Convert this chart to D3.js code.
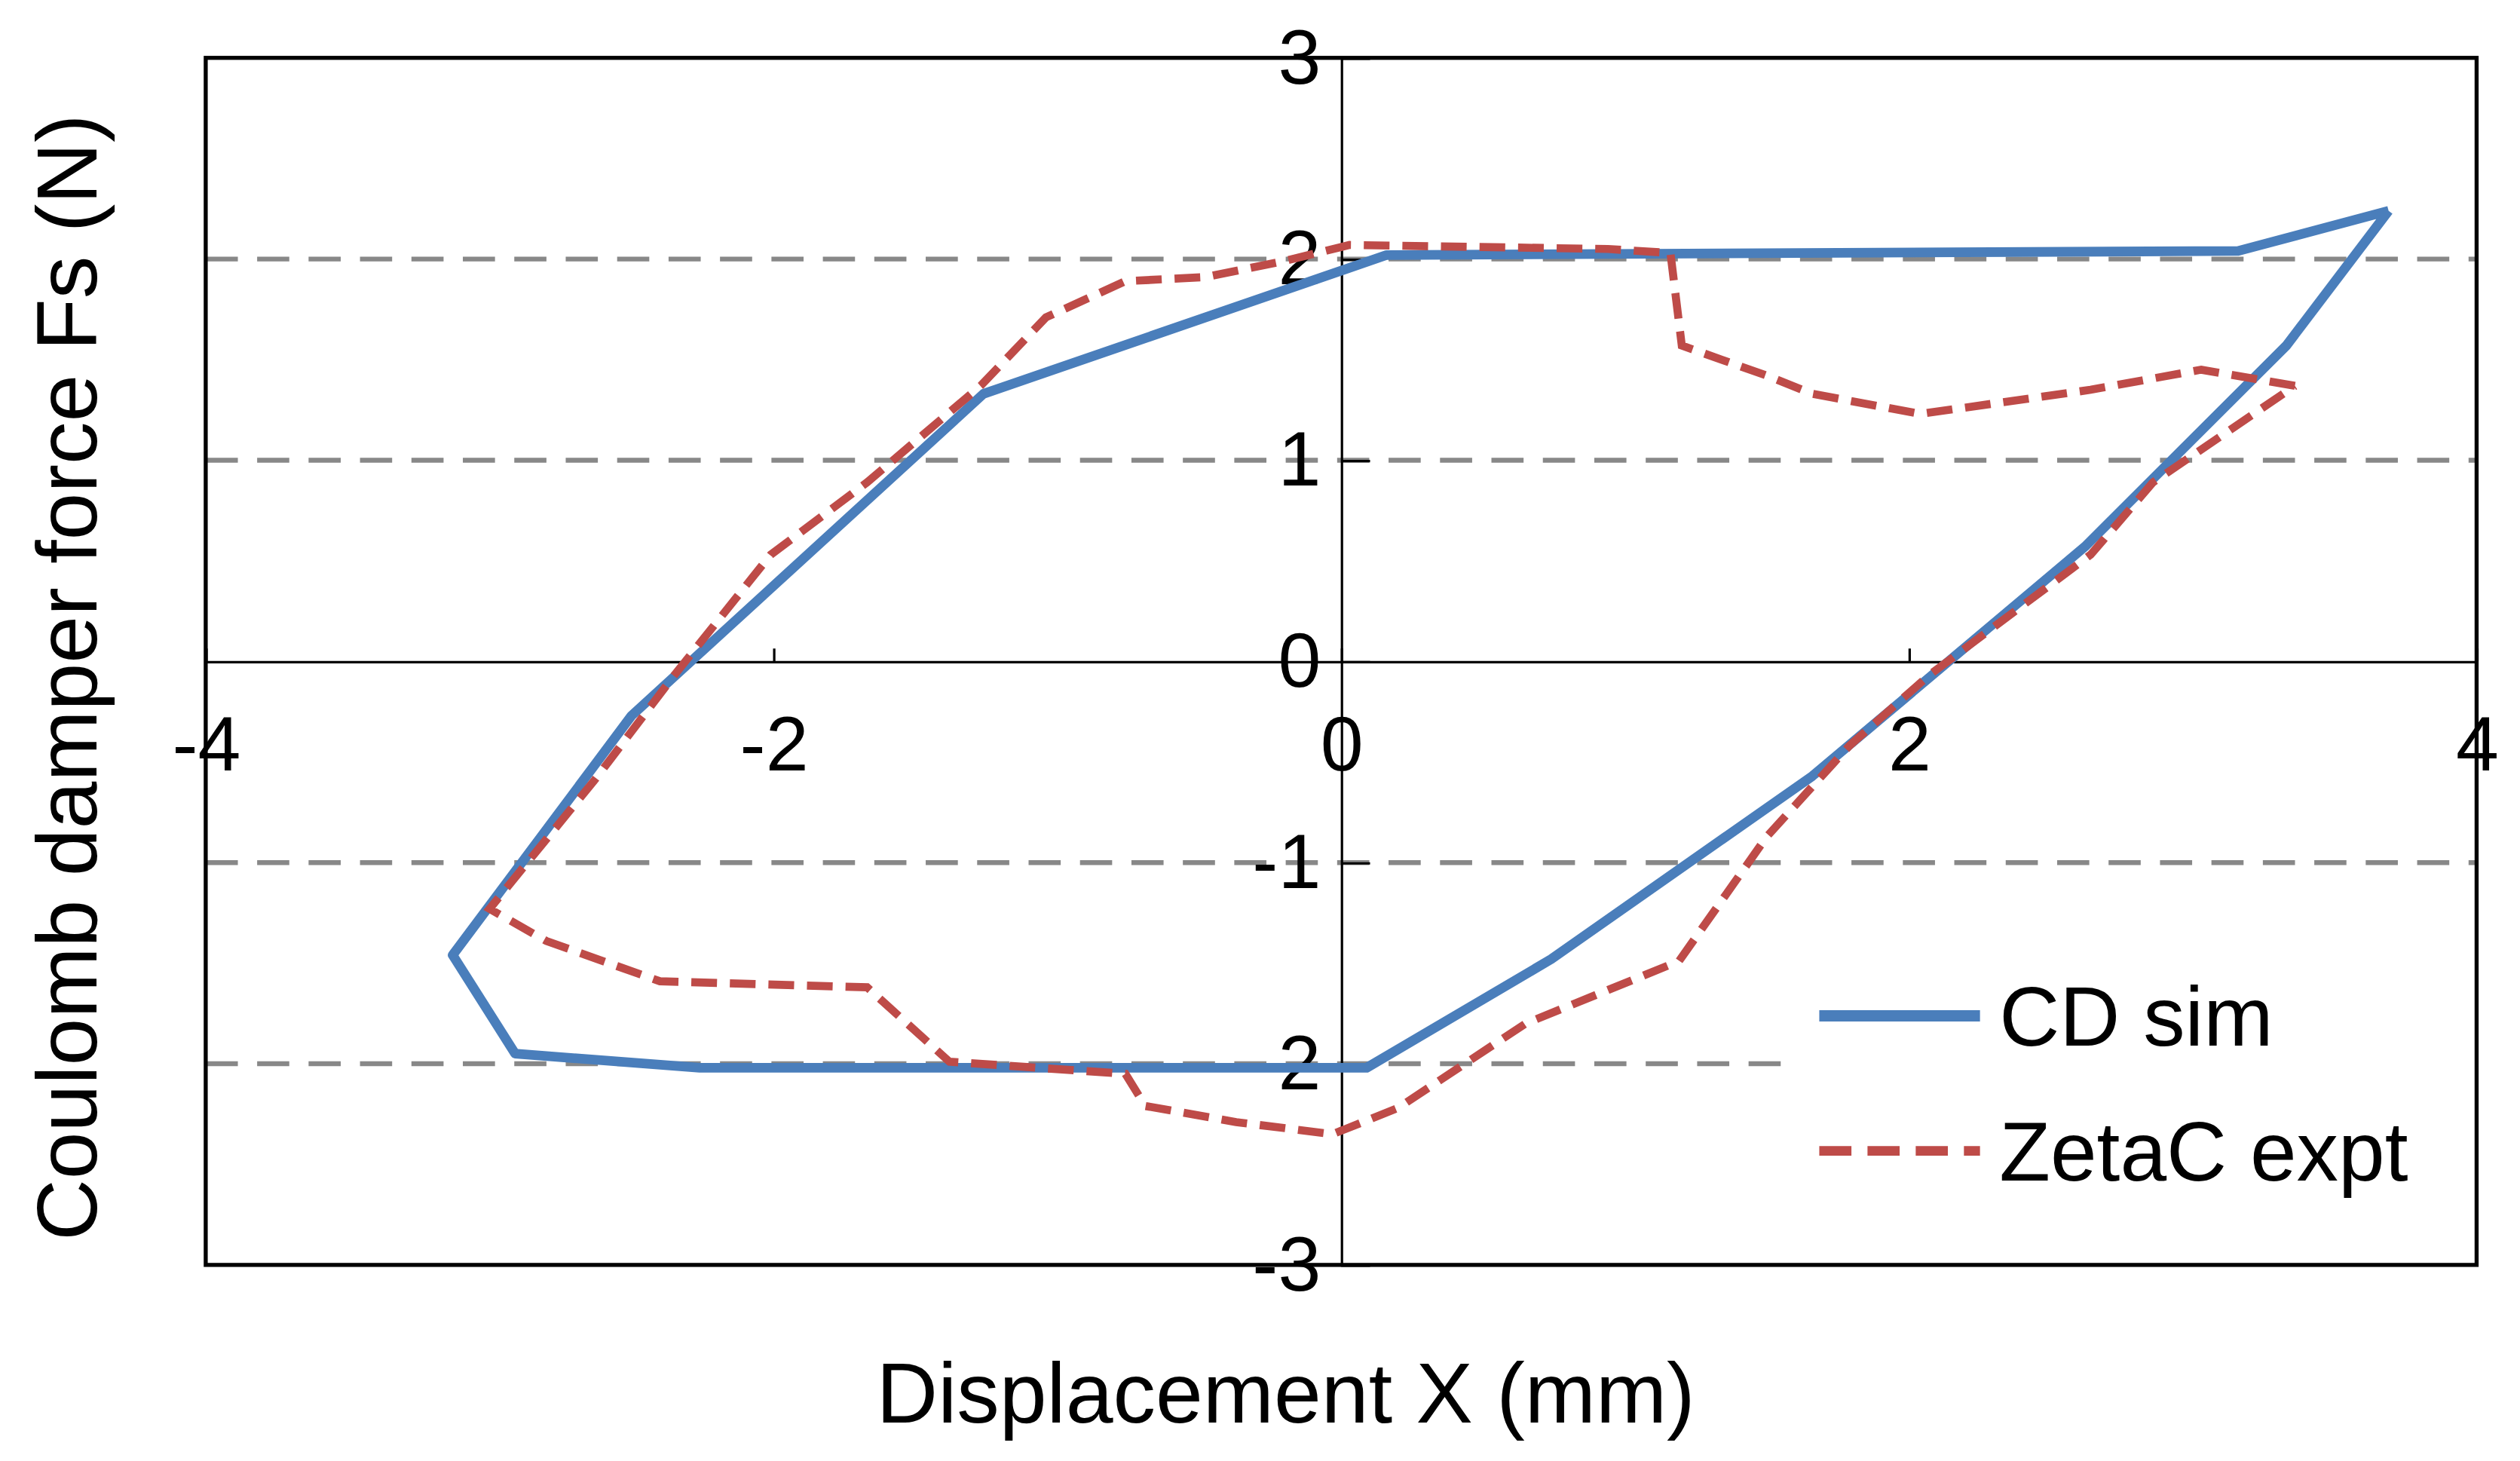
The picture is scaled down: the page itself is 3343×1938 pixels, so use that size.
<!DOCTYPE html>
<html><head><meta charset="utf-8">
<script src="https://cdn.jsdelivr.net/npm/d3@7"></script>
<style>body{margin:0;background:#fff}text{font-family:"Liberation Sans",Arial,sans-serif}</style>
</head><body>
<script>
// data (mm, N)
const cdX = [3.69,3.33,2.62,1.66,0.74,0.09,-2.26,-2.91,-3.13,-2.50,-1.26,0.16,3.16,3.69];
const cdY = [2.24,1.57,0.57,-0.57,-1.48,-2.02,-2.02,-1.95,-1.46,-0.27,1.33,2.02,2.04,2.24];
const zcX = [3.36,3.03,2.64,2.04,1.66,1.50,1.20,1.16,0.94,0.03,-0.20,-0.48,-0.76,-1.04,-1.27,-1.67,-2.01,-2.35,-2.63,-3.0,-2.80,-2.40,-1.67,-1.38,-0.76,-0.69,-0.37,-0.03,0.20,0.65,1.19,1.50,1.79,2.07,2.64,2.86,3.36];
const zcY = [1.37,1.45,1.35,1.23,1.33,1.42,1.57,2.03,2.05,2.07,1.99,1.91,1.89,1.71,1.37,0.89,0.53,-0.07,-0.59,-1.23,-1.39,-1.59,-1.62,-1.99,-2.05,-2.21,-2.29,-2.35,-2.22,-1.80,-1.49,-0.87,-0.42,-0.07,0.53,0.89,1.37];
const xTicks = [-4,-2,0,2,4];
const yTicks = [-3,-2,-1,0,1,2,3];
const gridY = [-2,-1,1,2];

const W=1568,H=909;
const svg=d3.select("body").append("svg").attr("width",3343).attr("height",1938).attr("viewBox",`0 0 ${W} ${H}`);
const L=128,R=1541,T=36,B=787;
const x=d3.scaleLinear().domain([-4,4]).range([L,R]);
const y=d3.scaleLinear().domain([-3,3]).range([B,T]);
const fmt=d=>String(d);

svg.selectAll(".grid").data(gridY).enter().append("line")
  .attr("x1",L).attr("x2",d=>d===-2?1108:R).attr("y1",d=>y(d)).attr("y2",d=>y(d))
  .attr("stroke","#888").attr("stroke-width",3).attr("stroke-dasharray","20,12");

svg.append("rect").attr("x",L).attr("y",T).attr("width",R-L).attr("height",B-T)
  .attr("fill","none").attr("stroke","#000").attr("stroke-width",2.5);

const xAx=svg.append("g").attr("transform",`translate(0,${y(0)})`)
  .call(d3.axisBottom(x).tickValues(xTicks).tickSize(0).tickFormat(fmt));
xAx.select(".domain").attr("stroke","#000").attr("stroke-width",1.5);
xAx.selectAll("text").attr("font-size",48).attr("dy","1.35em").attr("fill","#000");
xAx.selectAll(".tick").append("line").attr("y1",-8).attr("y2",0).attr("stroke","#000").attr("stroke-width",1.5);

const yAx=svg.append("g").attr("transform",`translate(${x(0)},0)`)
  .call(d3.axisLeft(y).tickValues(yTicks).tickSize(0).tickFormat(fmt));
yAx.select(".domain").attr("stroke","#000").attr("stroke-width",1.5);
yAx.selectAll("text").attr("font-size",48).attr("dx","-0.2em").attr("fill","#000");
yAx.selectAll(".tick").append("line").attr("x1",0).attr("x2",18).attr("stroke","#000").attr("stroke-width",1.5);

const line=d3.line().x(d=>x(d[0])).y(d=>y(d[1]));
svg.append("path").datum(cdX.map((v,i)=>[v,cdY[i]])).attr("d",line)
  .attr("fill","none").attr("stroke","#4a7ebb").attr("stroke-width",6).attr("stroke-linejoin","round");
svg.append("path").datum(zcX.map((v,i)=>[v,zcY[i]])).attr("d",line)
  .attr("fill","none").attr("stroke","#be4b48").attr("stroke-width",5).attr("stroke-dasharray","16,8");

// legend
svg.append("line").attr("x1",1132).attr("x2",1232).attr("y1",632).attr("y2",632).attr("stroke","#4a7ebb").attr("stroke-width",7);
svg.append("text").attr("x",1244).attr("y",632).attr("dy","0.36em").attr("font-size",52).text("CD sim");
svg.append("line").attr("x1",1132).attr("x2",1232).attr("y1",716).attr("y2",716).attr("stroke","#be4b48").attr("stroke-width",6).attr("stroke-dasharray","20,10");
svg.append("text").attr("x",1244).attr("y",716).attr("dy","0.36em").attr("font-size",52).text("ZetaC expt");

svg.append("text").attr("x",800).attr("y",885).attr("text-anchor","middle").attr("font-size",53).text("Displacement X (mm)");
svg.append("text").attr("transform",`translate(60,${(T+B)/2+10}) rotate(-90)`).attr("text-anchor","middle").attr("font-size",53).text("Coulomb damper force Fs (N)");
</script>
</body></html>
